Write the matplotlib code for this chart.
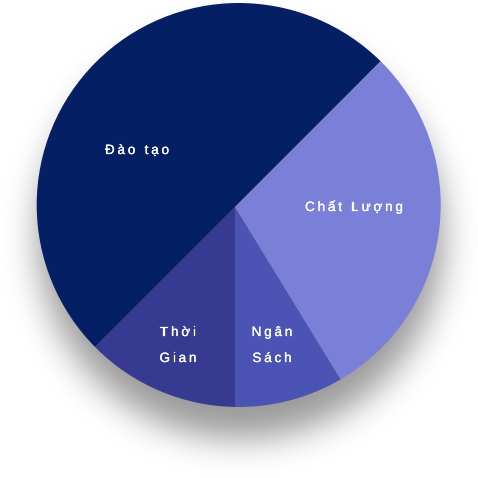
import numpy as np
import matplotlib
matplotlib.use("Agg")
import matplotlib.pyplot as plt
import matplotlib.patheffects as pe
from matplotlib.patches import Circle
from matplotlib import font_manager
from matplotlib.ft2font import FT2Font
from math import erf

# ---- data ----
categories = ["Thời Gian", "Đào tạo", "Chất Lượng", "Ngân Sách"]
values = [10, 40, 23, 7]
colors = ["#373a91", "#041f63", "#7a80d7", "#4b53b4"]
label_lines = [["Thời", "Gian"], ["Đào tạo"], ["Chất Lượng"], ["Ngân", "Sách"]]

W = H = 478
DPI = 100
fig = plt.figure(figsize=(W / DPI, H / DPI), dpi=DPI)
ax = fig.add_axes([0, 0, 1, 1])

# apex of slices and outline circle (pixel coordinates, y from top)
apx, apy = 235, 207
ccx, ccy, R = 238.7, 205, 202

# ---- soft shadow ----
yy, xx = np.mgrid[0:H, 0:W]
scx, scy = ccx + 2, (H - ccy) - 31
d = np.sqrt((xx + 0.5 - scx) ** 2 + (yy + 0.5 - scy) ** 2) - R
sigma = 17.0
verf = np.vectorize(erf)
alpha = 0.40 * 0.5 * (1 - verf(d / (np.sqrt(2) * sigma)))
img = np.zeros((H, W, 4))
img[..., 3] = alpha
ax.imshow(img, extent=(0, W, 0, H), origin="lower", zorder=0, interpolation="bilinear")

# ---- pie ----
wedges, _ = ax.pie(values, colors=colors, startangle=-90, counterclock=False,
                   center=(apx, H - apy), radius=R + 15, wedgeprops=dict(linewidth=0),
                   frame=True)
ax.set_xlim(0, W)
ax.set_ylim(0, H)
ax.set_aspect("auto")
ax.set_axis_off()

clip = Circle((ccx, H - ccy), R, facecolor="none", edgecolor="none", linewidth=0)
ax.add_patch(clip)
for w in wedges:
    w.set_zorder(2)
    w.set_clip_path(clip.get_path(), clip.get_transform())
    w.set_clip_on(True)

# ---- letter-spaced labels ----
fpath = font_manager.findfont(font_manager.FontProperties(family="Liberation Sans"))
size_px = 13.5
spacing = 2.8
ft = FT2Font(fpath)
ft.set_size(size_px * 72 / DPI, DPI)


def adv(ch):
    g = ft.load_char(ord(ch))
    return g.linearHoriAdvance / 65536.0


stroke = [pe.withStroke(linewidth=0.18, foreground="white")]


def spaced_text(x, y, s):
    advs = [adv(c) + spacing for c in s]
    total = sum(advs) - spacing
    pos = x - total / 2
    for c, a in zip(s, advs):
        ax.text(pos, y, c, fontsize=size_px * 72 / DPI, family="Liberation Sans",
                color="white", ha="left", va="baseline", zorder=5,
                path_effects=stroke)
        pos += a


label_pos = [(178, [336, 362]), (137, [154]), (354, [211]), (272, [336, 362])]
for lines, (lx, ys) in zip(label_lines, label_pos):
    for line, ly in zip(lines, ys):
        spaced_text(lx, H - ly, line)

fig.savefig("out.png", dpi=DPI)
